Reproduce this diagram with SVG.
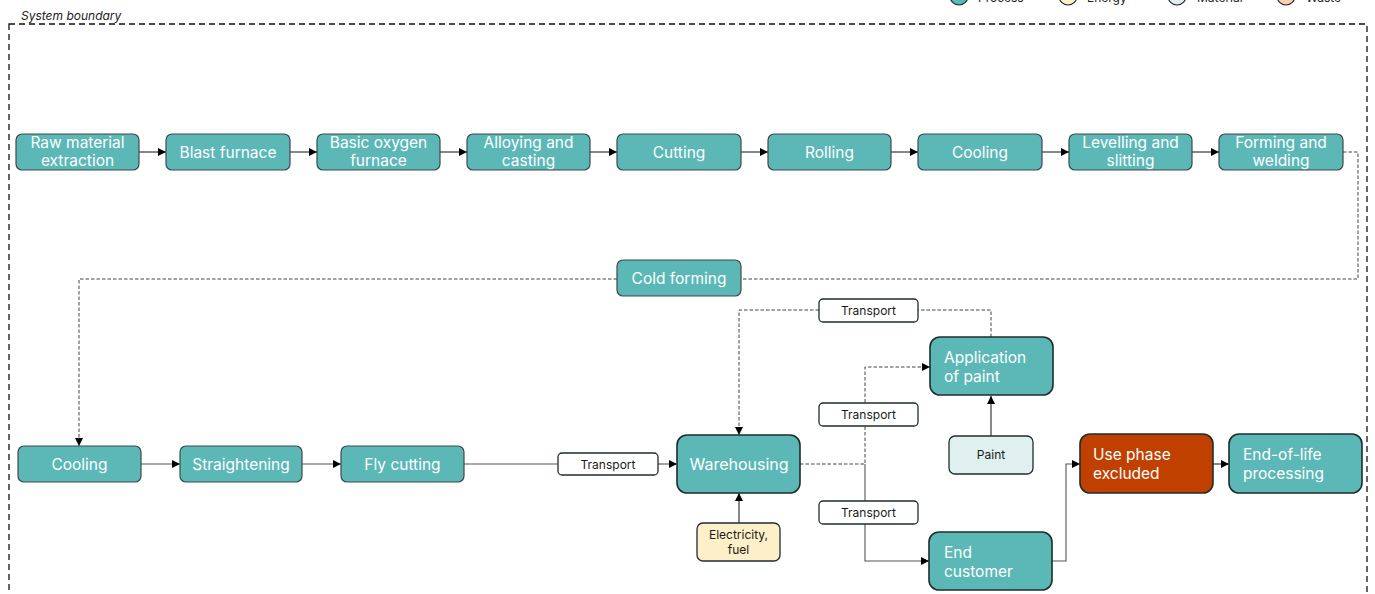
<svg xmlns="http://www.w3.org/2000/svg" width="1375" height="594" viewBox="0 0 1375 594">
<style>
.p{fill:#5bb8b7;stroke:#3b4a4a;stroke-width:1.2}
.pb{fill:#5bb8b7;stroke:#1f2d2d;stroke-width:1.6}
.t{font-family:Inter,"Noto Sans",sans-serif;font-size:15.5px;fill:#ffffff;text-anchor:middle}
.tl{font-family:Inter,"Noto Sans",sans-serif;font-size:15.5px;fill:#ffffff}
.s{font-family:Inter,"Noto Sans",sans-serif;font-size:12px;fill:#1a1a1a;text-anchor:middle}
.box{fill:#ffffff;stroke:#1f2d2d;stroke-width:1.3}
.c{fill:none;stroke:#111;stroke-width:1}
.g{fill:none;stroke:#555;stroke-width:1.1}
.d{fill:none;stroke:#444;stroke-width:1;stroke-dasharray:3.5 2}
</style>
<defs>
<marker id="a" viewBox="0 0 10 10" refX="10" refY="5" markerWidth="10" markerHeight="8" markerUnits="userSpaceOnUse" orient="auto"><path d="M0,0L10,5L0,10z" fill="#000"/></marker>
</defs>
<rect width="1375" height="594" fill="#fff"/>
<g id="legend" font-family="Inter,'Noto Sans',sans-serif" font-size="12" fill="#222">
<circle cx="959" cy="-4" r="9" fill="#5bb8b7" stroke="#1f2d2d" stroke-width="1.2"/><text x="978" y="2">Process</text>
<circle cx="1068" cy="-4" r="9" fill="#fdf0c8" stroke="#1f2d2d" stroke-width="1.2"/><text x="1087" y="2">Energy</text>
<circle cx="1177" cy="-4" r="9" fill="#dff0ef" stroke="#1f2d2d" stroke-width="1.2"/><text x="1197" y="2">Material</text>
<circle cx="1286" cy="-4" r="9" fill="#fbcfb4" stroke="#1f2d2d" stroke-width="1.2"/><text x="1306" y="2">Waste</text>
</g>
<g id="boundary">
<rect x="9" y="24" width="1358" height="590" fill="none" stroke="#111" stroke-width="1.3" stroke-dasharray="6 4"/>
<text x="21" y="20" font-family="Inter,'Noto Sans',sans-serif" font-size="12" font-style="italic" fill="#222">System boundary</text>
</g>
<g id="connectors">
<line class="c" x1="139" y1="152" x2="166" y2="152" marker-end="url(#a)"/>
<line class="c" x1="290" y1="152" x2="317" y2="152" marker-end="url(#a)"/>
<line class="c" x1="440" y1="152" x2="467" y2="152" marker-end="url(#a)"/>
<line class="c" x1="590" y1="152" x2="617" y2="152" marker-end="url(#a)"/>
<line class="c" x1="741" y1="152" x2="768" y2="152" marker-end="url(#a)"/>
<line class="c" x1="891" y1="152" x2="918" y2="152" marker-end="url(#a)"/>
<line class="c" x1="1042" y1="152" x2="1069" y2="152" marker-end="url(#a)"/>
<line class="c" x1="1192" y1="152" x2="1219" y2="152" marker-end="url(#a)"/>
<path class="d" d="M1343,152H1358V279H741"/>
<path class="d" d="M617,279H79V446" marker-end="url(#a)"/>
<line class="g" x1="141" y1="464" x2="180" y2="464" marker-end="url(#a)"/>
<line class="g" x1="302" y1="464" x2="341" y2="464" marker-end="url(#a)"/>
<line class="g" x1="464" y1="464" x2="558" y2="464"/>
<line class="g" x1="658" y1="464" x2="677" y2="464" marker-end="url(#a)"/>
<line class="c" x1="739" y1="523" x2="739" y2="493" marker-end="url(#a)"/>
<path class="d" d="M991,337V310H918"/>
<path class="d" d="M819,310H739V435" marker-end="url(#a)"/>
<path class="d" d="M800,464H865V367H930" marker-end="url(#a)"/>
<path class="g" d="M865,464V561H929" marker-end="url(#a)"/>
<line class="c" x1="991" y1="436" x2="991" y2="396" marker-end="url(#a)"/>
<path class="g" d="M1052,561H1066V464H1080" marker-end="url(#a)"/>
<line class="c" x1="1213" y1="464" x2="1229" y2="464" marker-end="url(#a)"/>
</g>
<g id="raw"><rect class="p" x="16" y="134" width="123" height="36" rx="6"/><text class="t" x="77.5" y="148">Raw material</text><text class="t" x="77.5" y="166">extraction</text></g>
<g id="blast"><rect class="p" x="166" y="134" width="124" height="36" rx="6"/><text class="t" x="228" y="157.5">Blast furnace</text></g>
<g id="bof"><rect class="p" x="317" y="134" width="123" height="36" rx="6"/><text class="t" x="378.5" y="148">Basic oxygen</text><text class="t" x="378.5" y="166">furnace</text></g>
<g id="alloy"><rect class="p" x="467" y="134" width="123" height="36" rx="6"/><text class="t" x="528.5" y="148">Alloying and</text><text class="t" x="528.5" y="166">casting</text></g>
<g id="cutting"><rect class="p" x="617" y="134" width="124" height="36" rx="6"/><text class="t" x="679" y="157.5">Cutting</text></g>
<g id="rolling"><rect class="p" x="768" y="134" width="123" height="36" rx="6"/><text class="t" x="829.5" y="157.5">Rolling</text></g>
<g id="cooling1"><rect class="p" x="918" y="134" width="124" height="36" rx="6"/><text class="t" x="980" y="157.5">Cooling</text></g>
<g id="levelling"><rect class="p" x="1069" y="134" width="123" height="36" rx="6"/><text class="t" x="1130.5" y="148">Levelling and</text><text class="t" x="1130.5" y="166">slitting</text></g>
<g id="forming"><rect class="p" x="1219" y="134" width="124" height="36" rx="6"/><text class="t" x="1281" y="148">Forming and</text><text class="t" x="1281" y="166">welding</text></g>
<g id="coldforming"><rect class="p" x="617" y="260" width="124" height="36" rx="6"/><text class="t" x="679" y="283.5">Cold forming</text></g>
<g id="cooling2"><rect class="p" x="18" y="446" width="123" height="36" rx="6"/><text class="t" x="79.5" y="469.5">Cooling</text></g>
<g id="straightening"><rect class="p" x="180" y="446" width="122" height="36" rx="6"/><text class="t" x="241" y="469.5">Straightening</text></g>
<g id="flycutting"><rect class="p" x="341" y="446" width="123" height="36" rx="6"/><text class="t" x="402.5" y="469.5">Fly cutting</text></g>
<g id="transport1"><rect class="box" x="558" y="453" width="100" height="22" rx="4"/><text class="s" x="608" y="468.5">Transport</text></g>
<g id="warehousing"><rect class="pb" x="677" y="435" width="123" height="58" rx="10"/><text class="t" x="739" y="469.5" style="font-size:16px">Warehousing</text></g>
<g id="energy"><rect x="697" y="523" width="83" height="38" rx="6" fill="#fdf0c8" stroke="#1f2d2d" stroke-width="1.3"/><text class="s" x="738.5" y="539">Electricity,</text><text class="s" x="738.5" y="554">fuel</text></g>
<g id="transport2"><rect class="box" x="819" y="299" width="99" height="23" rx="4"/><text class="s" x="868.5" y="315">Transport</text></g>
<g id="paintapp"><rect class="pb" x="930" y="337" width="123" height="58" rx="10"/><text class="tl" x="944" y="362.5">Application</text><text class="tl" x="944" y="381.5">of paint</text></g>
<g id="transport3"><rect class="box" x="819" y="403" width="99" height="23" rx="4"/><text class="s" x="868.5" y="419">Transport</text></g>
<g id="paint"><rect x="949" y="436" width="84" height="38" rx="6" fill="#dff0ef" stroke="#1f2d2d" stroke-width="1.3"/><text class="s" x="991" y="459">Paint</text></g>
<g id="transport4"><rect class="box" x="819" y="501" width="99" height="23" rx="4"/><text class="s" x="868.5" y="517">Transport</text></g>
<g id="endcustomer"><rect class="pb" x="929" y="532" width="123" height="58" rx="10"/><text class="tl" x="944" y="557.5">End</text><text class="tl" x="944" y="576.5">customer</text></g>
<g id="usephase"><rect x="1080" y="434" width="133" height="59" rx="10" fill="#c04000" stroke="#1f2d2d" stroke-width="1.6"/><text class="tl" x="1093" y="460">Use phase</text><text class="tl" x="1093" y="478.5">excluded</text></g>
<g id="eol"><rect class="pb" x="1229" y="434" width="133" height="59" rx="10"/><text class="tl" x="1243" y="460">End-of-life</text><text class="tl" x="1243" y="478.5">processing</text></g>
</svg>
